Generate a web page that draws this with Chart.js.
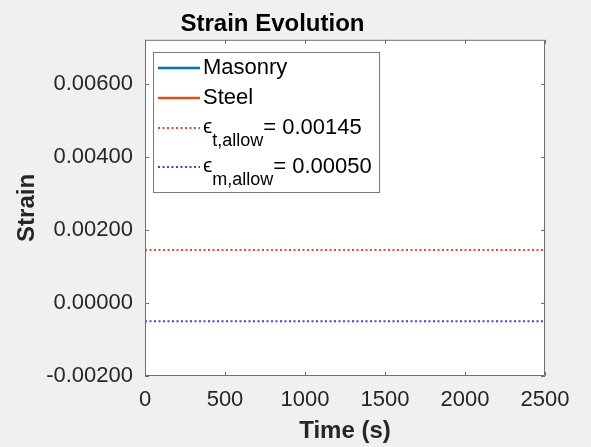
<!DOCTYPE html>
<html lang="en">
<head>
    <meta charset="UTF-8">
    <title>Strain Evolution</title>
    <script src="https://cdn.jsdelivr.net/npm/chart.js"></script>
    <style>
        html, body { margin: 0; padding: 0; background: #f0f0f0; }
        #chartContainer { width: 591px; height: 447px; }
    </style>
</head>
<body>
    <div id="chartContainer">
        <canvas id="strainChart"></canvas>
    </div>
    <script>
        // Datos de la simulación
        const timeRange = [0, 2500];
        const timeTicks = [0, 500, 1000, 1500, 2000, 2500];
        const strainRange = [-0.002, 0.0072];
        const strainTicks = [-0.002, 0, 0.002, 0.004, 0.006];
        const masonryStrain = [];   // sin muestras registradas
        const steelStrain = [];
        const tensileAllow = 0.00145;
        const masonryAllow = 0.00050;   // compresión: se dibuja negativo

        const FONT = '"Liberation Sans", Arial, Helvetica, sans-serif';
        const COLORS = {
            masonry: '#0072BD',
            steel: '#D95319',
            tensile: '#e5483b',
            compress: '#4141d2'
        };

        function flatLine(value) {
            return timeRange.map(t => ({ x: t, y: value }));
        }

        // Caja de ejes estilo MATLAB con marcas hacia dentro
        const boxPlugin = {
            id: 'matlabBox',
            beforeDatasetsDraw(chart) {
                const { ctx, chartArea: a } = chart;
                ctx.save();
                ctx.fillStyle = '#ffffff';
                ctx.fillRect(a.left, a.top, a.right - a.left, a.bottom - a.top);
                ctx.restore();
            },
            afterDatasetsDraw(chart) {
                const { ctx, chartArea: a, scales } = chart;
                const tick = 4;
                ctx.save();
                ctx.strokeStyle = '#6e6e6e';
                ctx.lineWidth = 1;
                ctx.beginPath();
                ctx.rect(a.left + 0.5, a.top + 0.5, a.right - a.left - 1, a.bottom - a.top - 1);
                timeTicks.forEach(t => {
                    const x = Math.round(scales.x.getPixelForValue(t)) + 0.5;
                    ctx.moveTo(x, a.bottom); ctx.lineTo(x, a.bottom - tick);
                    ctx.moveTo(x, a.top); ctx.lineTo(x, a.top + tick);
                });
                strainTicks.forEach(v => {
                    const y = Math.round(scales.y.getPixelForValue(v)) + 0.5;
                    ctx.moveTo(a.left, y); ctx.lineTo(a.left + tick, y);
                    ctx.moveTo(a.right, y); ctx.lineTo(a.right - tick, y);
                });
                ctx.stroke();
                ctx.restore();
            }
        };

        // Leyenda con subíndices
        const legendPlugin = {
            id: 'strainLegend',
            afterDraw(chart) {
                const ctx = chart.ctx;
                const box = { x: 153.5, y: 52.5, w: 226, h: 140 };
                ctx.save();
                ctx.fillStyle = '#ffffff';
                ctx.fillRect(box.x, box.y, box.w, box.h);
                ctx.strokeStyle = '#7a7a7a';
                ctx.lineWidth = 1;
                ctx.strokeRect(box.x, box.y, box.w, box.h);

                const x0 = 158, x1 = 200, tx = 203;
                const rows = [
                    { y: 68, color: COLORS.masonry, dash: [], text: 'Masonry' },
                    { y: 98, color: COLORS.steel, dash: [], text: 'Steel' },
                    { y: 128, color: COLORS.tensile, dash: [2, 2.5], sub: 't,allow', value: tensileAllow },
                    { y: 167, color: COLORS.compress, dash: [2, 2.5], sub: 'm,allow', value: masonryAllow }
                ];
                rows.forEach(r => {
                    ctx.beginPath();
                    ctx.setLineDash(r.dash);
                    ctx.strokeStyle = r.color;
                    ctx.lineWidth = r.dash.length ? 2 : 2.6;
                    ctx.moveTo(x0, r.y);
                    ctx.lineTo(x1, r.y);
                    ctx.stroke();
                    ctx.setLineDash([]);

                    ctx.fillStyle = '#000000';
                    ctx.textBaseline = 'middle';
                    ctx.textAlign = 'left';
                    if (r.text) {
                        ctx.font = '22px ' + FONT;
                        ctx.fillText(r.text, tx, r.y);
                    } else {
                        ctx.font = '21px ' + FONT;
                        ctx.fillText('\u03F5', tx, r.y - 1);
                        const ew = ctx.measureText('\u03F5').width;
                        ctx.font = '18px ' + FONT;
                        ctx.fillText(r.sub, tx + ew, r.y + 13);
                        const sw = ctx.measureText(r.sub).width;
                        ctx.font = '22px ' + FONT;
                        ctx.fillText('= ' + r.value.toFixed(5), tx + ew + sw, r.y);
                    }
                });
                ctx.restore();
            }
        };

        const ctx = document.getElementById('strainChart').getContext('2d');
        new Chart(ctx, {
            type: 'line',
            data: {
                datasets: [
                    {
                        label: 'Masonry',
                        data: masonryStrain,
                        borderColor: COLORS.masonry,
                        borderWidth: 2,
                        pointRadius: 0
                    },
                    {
                        label: 'Steel',
                        data: steelStrain,
                        borderColor: COLORS.steel,
                        borderWidth: 2,
                        pointRadius: 0
                    },
                    {
                        label: 'eps_t,allow',
                        data: flatLine(tensileAllow),
                        borderColor: COLORS.tensile,
                        borderWidth: 2,
                        borderDash: [2, 2.5],
                        pointRadius: 0
                    },
                    {
                        label: 'eps_m,allow',
                        data: flatLine(-masonryAllow),
                        borderColor: COLORS.compress,
                        borderWidth: 2,
                        borderDash: [2, 2.5],
                        pointRadius: 0
                    }
                ]
            },
            options: {
                responsive: true,
                maintainAspectRatio: false,
                animation: false,
                layout: { padding: { left: 0, right: 46, top: 0, bottom: 0 } },
                plugins: {
                    legend: { display: false },
                    tooltip: { enabled: false },
                    title: {
                        display: true,
                        text: 'Strain Evolution',
                        color: '#000000',
                        font: { family: FONT, size: 24, weight: 'bold' },
                        padding: { top: 10, bottom: 1 }
                    }
                },
                scales: {
                    x: {
                        type: 'linear',
                        min: timeRange[0],
                        max: timeRange[1],
                        afterBuildTicks: scale => { scale.ticks = timeTicks.map(v => ({ value: v })); },
                        afterFit: scale => { scale.height = 71; },
                        grid: { display: false, drawTicks: false },
                        border: { display: false },
                        ticks: {
                            padding: 11,
                            maxRotation: 0,
                            color: '#262626',
                            font: { family: FONT, size: 22 },
                            callback: v => String(v)
                        },
                        title: {
                            display: true,
                            text: 'Time (s)',
                            color: '#262626',
                            font: { family: FONT, size: 24, weight: 'bold' },
                            padding: { top: 0, bottom: 1 }
                        }
                    },
                    y: {
                        type: 'linear',
                        min: strainRange[0],
                        max: strainRange[1],
                        afterBuildTicks: scale => { scale.ticks = strainTicks.map(v => ({ value: v })); },
                        afterFit: scale => { scale.width = 145; },
                        grid: { display: false, drawTicks: false },
                        border: { display: false },
                        ticks: {
                            padding: 12,
                            color: '#262626',
                            font: { family: FONT, size: 22 },
                            callback: v => (Math.abs(v) < 1e-12 ? 0 : v).toFixed(5)
                        },
                        title: {
                            display: true,
                            text: 'Strain',
                            color: '#262626',
                            font: { family: FONT, size: 24, weight: 'bold' },
                            padding: { top: 13, bottom: 0 }
                        }
                    }
                }
            },
            plugins: [boxPlugin, legendPlugin]
        });
    </script>
</body>
</html>
